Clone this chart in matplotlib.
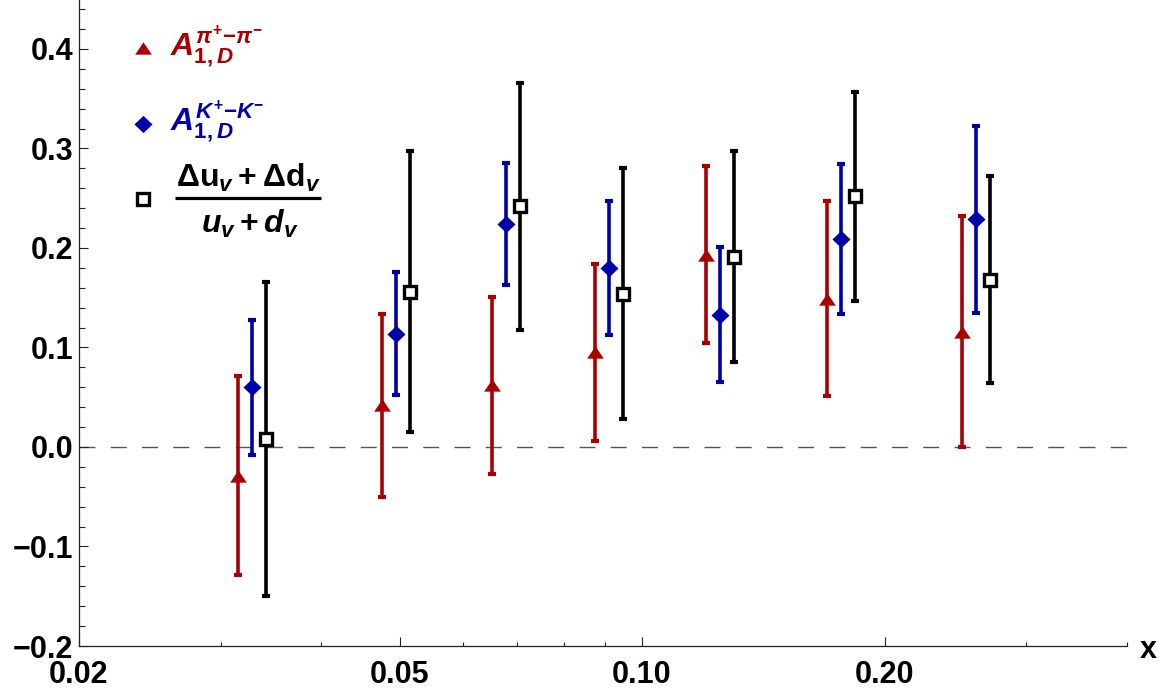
import numpy as np
import matplotlib
matplotlib.use("Agg")
import matplotlib.pyplot as plt
from matplotlib.ticker import FixedLocator, FixedFormatter, NullFormatter
from matplotlib.lines import Line2D

plt.rcParams['font.family'] = ['Liberation Sans', 'DejaVu Sans']
plt.rcParams['font.weight'] = 'bold'
plt.rcParams['mathtext.fontset'] = 'custom'
plt.rcParams['mathtext.rm'] = 'Liberation Sans:bold'
plt.rcParams['mathtext.bf'] = 'Liberation Sans:bold'
plt.rcParams['mathtext.sf'] = 'Liberation Sans:bold'
plt.rcParams['mathtext.it'] = 'Liberation Sans:bold:italic'

# x bins
x_bins = [0.0328, 0.0495, 0.0677, 0.0911, 0.1249, 0.1768, 0.2600]

# A_1,D^{pi+ - pi-}
pi_vals = [-0.029, 0.042, 0.062, 0.095, 0.193, 0.149, 0.116]
pi_errs = [0.100, 0.092, 0.089, 0.089, 0.089, 0.098, 0.116]

# A_1,D^{K+ - K-}
k_vals = [0.060, 0.114, 0.224, 0.180, 0.133, 0.209, 0.229]
k_errs = [0.068, 0.062, 0.061, 0.067, 0.068, 0.075, 0.094]

# (du_v + dd_v) / (u_v + d_v)
v_vals = [0.008, 0.156, 0.242, 0.154, 0.191, 0.252, 0.168]
v_errs = [0.158, 0.141, 0.124, 0.126, 0.106, 0.105, 0.104]

x_major = [0.02, 0.05, 0.10, 0.20]
x_major_labels = ["0.02", "0.05", "0.10", "0.20"]
x_minor = [0.03, 0.04, 0.06, 0.07, 0.08, 0.09, 0.3, 0.4]
y_major = [-0.2, -0.1, 0.0, 0.1, 0.2, 0.3, 0.4]
y_major_labels = ["\u22120.2", "\u22120.1", "0.0", "0.1", "0.2", "0.3", "0.4"]

RED = '#AA0000'
BLUE = '#0000AA'
BLACK = '#000000'

W, H = 1175, 692
fig = plt.figure(figsize=(W / 100, H / 100), dpi=100)
ax = fig.add_axes([79 / W, 46 / H, 1048 / W, 646 / H])
ax.set_xscale('log')
ax.set_xlim(0.02, 0.4)
ax.set_ylim(-0.2, 0.4492)

# markers
tri = [(0, 0.74), (-1, -0.74), (1, -0.74), (0, 0.74)]
dia = [(0, 0.96), (-1, 0), (0, -0.96), (1, 0), (0, 0.96)]

# horizontal dodge in decades
shift = 0.0174
x = np.array(x_bins)
x_red = x * 10 ** (-shift)
x_blue = x
x_black = x * 10 ** (shift)

ax.axhline(0.0, color='#555555', lw=1.0, linestyle=(0, (11.5, 11)), zorder=1)

eb_kw = dict(fmt='none', elinewidth=2.6, capsize=2.6, capthick=3.0, zorder=2)
ax.errorbar(x_red, pi_vals, yerr=pi_errs, ecolor=RED, **eb_kw)
ax.errorbar(x_blue, k_vals, yerr=k_errs, ecolor=BLUE, **eb_kw)
ax.errorbar(x_black, v_vals, yerr=v_errs, ecolor=BLACK, **eb_kw)

ax.plot(x_red, pi_vals, linestyle='none', marker=tri, ms=12, color=RED,
        mec=RED, mew=0, zorder=3)
ax.plot(x_blue, k_vals, linestyle='none', marker=dia, ms=13, color=BLUE,
        mec=BLUE, mew=0, zorder=3)
ax.plot(x_black, v_vals, linestyle='none', marker='s', ms=8.2, mfc='white',
        mec=BLACK, mew=2.4, zorder=3)

# axes styling
for s in ('top', 'right'):
    ax.spines[s].set_visible(False)
for s in ('left', 'bottom'):
    ax.spines[s].set_linewidth(0.9)
    ax.spines[s].set_color('#222222')

ax.xaxis.set_major_locator(FixedLocator(x_major))
ax.xaxis.set_major_formatter(FixedFormatter(x_major_labels))
ax.xaxis.set_minor_locator(FixedLocator(x_minor))
ax.xaxis.set_minor_formatter(NullFormatter())
ax.yaxis.set_major_locator(FixedLocator(y_major))
ax.yaxis.set_major_formatter(FixedFormatter(y_major_labels))
ax.yaxis.set_minor_locator(FixedLocator(np.round(np.arange(-0.2, 0.45, 0.02), 2)))

ax.tick_params(axis='both', which='both', direction='in', color='#222222', width=0.8)
ax.tick_params(axis='x', which='major', length=6.5, pad=10, labelsize=22)
ax.tick_params(axis='x', which='minor', length=3.0)
ax.tick_params(axis='y', which='major', length=6.5, pad=4, labelsize=22)
ax.tick_params(axis='y', which='minor', length=4.2)
for lab in ax.get_xticklabels() + ax.get_yticklabels():
    lab.set_fontweight('bold')

def fx(px):
    return px / W

def fy(py):
    return 1 - py / H

fig.text(fx(1148), fy(650), "x", fontsize=22, fontweight='bold',
         ha='center', va='center')

# legend
leg_x = 143
fig.add_artist(Line2D([fx(leg_x)], [fy(48)], transform=fig.transFigure,
                      marker=tri, ms=12, color=RED, mew=0, linestyle='none'))
fig.add_artist(Line2D([fx(leg_x)], [fy(124)], transform=fig.transFigure,
                      marker=dia, ms=13, color=BLUE, mew=0, linestyle='none'))
fig.add_artist(Line2D([fx(leg_x)], [fy(199)], transform=fig.transFigure,
                      marker='s', ms=8.2, mfc='white', mec=BLACK, mew=2.4,
                      linestyle='none'))

fs_leg = 23
fig.text(fx(170), fy(47), r"$A^{\pi^{+}{-}\pi^{-}}_{1,D}$", color=RED,
         fontsize=fs_leg, ha='left', va='center')
fig.text(fx(170), fy(122), r"$A^{K^{+}{-}K^{-}}_{1,D}$", color=BLUE,
         fontsize=fs_leg, ha='left', va='center')

fig.text(fx(248), fy(178), r"$\Delta\mathrm{u}_v + \Delta\mathrm{d}_v$",
         color=BLACK, fontsize=fs_leg, ha='center', va='center')
fig.add_artist(Line2D([fx(175), fx(321)], [fy(197.7), fy(197.7)],
                      transform=fig.transFigure, color=BLACK, lw=2.3,
                      solid_capstyle='butt'))
fig.text(fx(250), fy(224), r"$u_v + d_v$", color=BLACK, fontsize=fs_leg,
         ha='center', va='center')

fig.savefig("out.png", dpi=100)
